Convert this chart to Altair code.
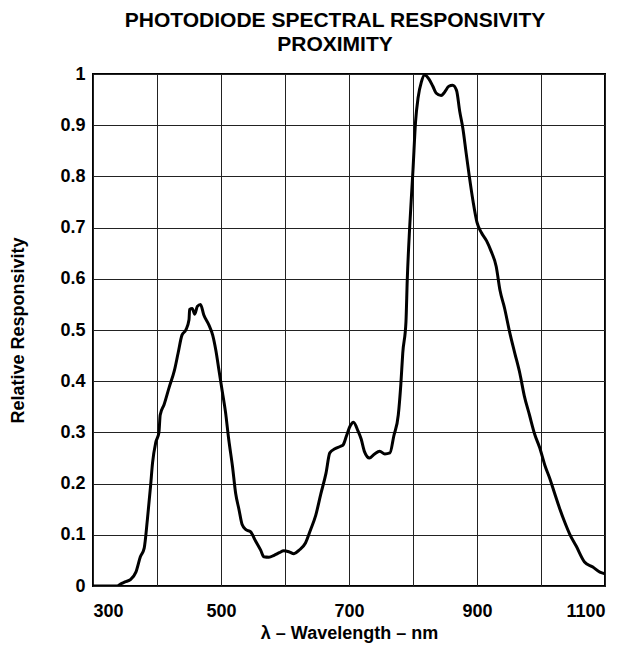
import altair as alt
import pandas as pd

wavelength = [300, 320, 338, 343, 350, 359, 367, 374, 380, 385, 390, 393, 398, 403, 405, 411, 419, 427, 433, 439,
              445, 450, 451, 455, 459, 463, 468, 473, 481, 487, 492, 497, 502, 507, 512, 518, 523, 528, 533, 539,
              546, 554, 562, 567, 575, 583, 591, 598, 606, 614, 622, 632, 640, 648, 656, 664, 670, 678, 687, 691,
              696, 702, 707, 714, 719, 724, 732, 740, 748, 756, 764, 770, 777, 781, 784, 789, 791, 795, 800, 804,
              808, 813, 818, 825, 831, 836, 844, 849, 856, 862, 868, 873, 878, 883, 888, 894, 900, 907, 915, 922,
              930, 936, 943, 951, 959, 967, 974, 982, 990, 998, 1006, 1014, 1021, 1029, 1037, 1045, 1055, 1068,
              1081, 1092, 1100]
responsivity = [0, 0, 0, 0.004, 0.008, 0.013, 0.027, 0.057, 0.074, 0.13, 0.196, 0.24, 0.28, 0.30, 0.334, 0.354,
                0.388, 0.42, 0.455, 0.49, 0.50, 0.52, 0.54, 0.542, 0.531, 0.546, 0.55, 0.53, 0.51, 0.49, 0.46, 0.42,
                0.38, 0.34, 0.287, 0.233, 0.18, 0.15, 0.12, 0.11, 0.106, 0.088, 0.07, 0.057, 0.056, 0.06, 0.065,
                0.069, 0.067, 0.063, 0.07, 0.084, 0.11, 0.138, 0.18, 0.22, 0.26, 0.268, 0.273, 0.276, 0.293, 0.313,
                0.32, 0.303, 0.287, 0.263, 0.25, 0.258, 0.263, 0.258, 0.26, 0.293, 0.334, 0.394, 0.455, 0.516, 0.597,
                0.705, 0.813, 0.907, 0.954, 0.984, 0.998, 0.99, 0.976, 0.963, 0.958, 0.964, 0.976, 0.978, 0.968,
                0.927, 0.893, 0.846, 0.80, 0.75, 0.71, 0.69, 0.674, 0.654, 0.624, 0.577, 0.543, 0.496, 0.455, 0.415,
                0.371, 0.334, 0.297, 0.27, 0.236, 0.209, 0.182, 0.152, 0.125, 0.101, 0.078, 0.047, 0.037, 0.027,
                0.024]

x_ticks = [300, 400, 500, 600, 700, 800, 900, 1000, 1100]
y_ticks = [0, 0.1, 0.2, 0.3, 0.4, 0.5, 0.6, 0.7, 0.8, 0.9, 1.0]

df = pd.DataFrame({"wl": wavelength, "r": responsivity})
FONT = "Liberation Sans"

chart = alt.Chart(df).mark_line(color="black", strokeWidth=3, interpolate="monotone", clip=True).encode(
    x=alt.X("wl:Q", scale=alt.Scale(domain=[300, 1100], nice=False, zero=False),
            axis=alt.Axis(values=x_ticks, format="d",
                          labelExpr="(datum.value - 300) % 200 == 0 ? datum.label : ''",
                          title="λ – Wavelength – nm", grid=True, ticks=False, domain=False,
                          labelPadding=16, titlePadding=4)),
    y=alt.Y("r:Q", scale=alt.Scale(domain=[0, 1], nice=False),
            axis=alt.Axis(values=y_ticks, format=".1~f", title="Relative Responsivity",
                          grid=True, ticks=False, domain=False, labelPadding=8, titlePadding=32)),
).properties(
    width=512, height=512,
    title=alt.TitleParams(["PHOTODIODE SPECTRAL RESPONSIVITY", "PROXIMITY"], fontSize=21, font=FONT,
                          fontWeight="bold", color="black", anchor="middle", dx=-14, offset=10, lineHeight=24),
    autosize=alt.AutoSizeParams(type="none"),
    padding={"left": 85, "top": 66, "right": 16, "bottom": 62},
).configure_view(
    stroke="black", strokeWidth=2
).configure_axis(
    gridColor="#222222", gridWidth=1, gridOpacity=1,
    labelFont=FONT, labelFontSize=18, labelFontWeight="bold", labelColor="black",
    titleFont=FONT, titleFontSize=18, titleFontWeight="bold", titleColor="black",
)

chart.save("out.html", embed_options={"renderer": "svg", "actions": False})
